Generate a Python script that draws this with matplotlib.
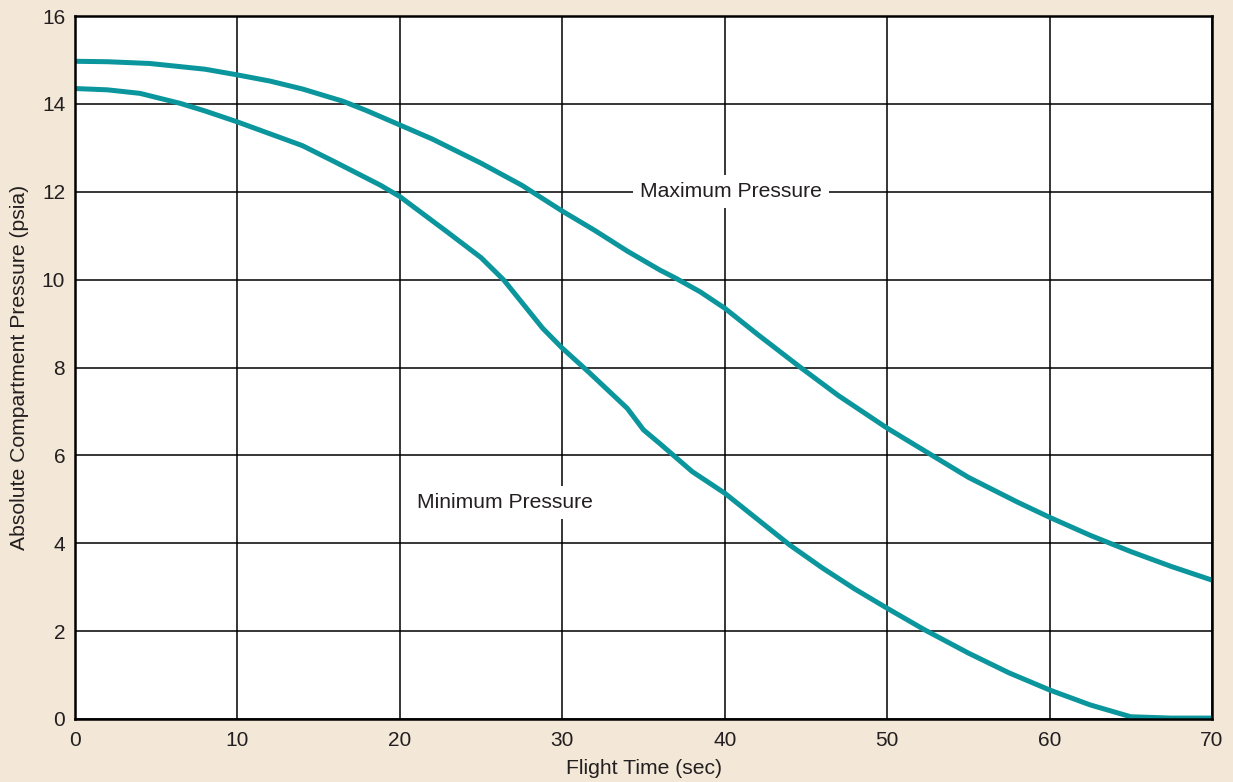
import numpy as np
import matplotlib
matplotlib.use('Agg')
import matplotlib.pyplot as plt

plt.rcParams['font.family'] = ['Liberation Sans', 'DejaVu Sans']

# 读图得到的数据点 (时间 sec, 压力 psia)
max_time = [0, 2, 4.6, 8, 10, 12, 14, 16.5, 18, 20, 22, 25, 27.5, 30, 32, 34, 36, 37,
            38.5, 40, 42, 44.6, 47, 50, 52.9, 55, 58, 60, 62.5, 65, 67.5, 70]
max_press = [14.97, 14.96, 14.92, 14.79, 14.66, 14.52, 14.34, 14.06, 13.84, 13.52, 13.20,
             12.65, 12.15, 11.56, 11.12, 10.65, 10.22, 10.03, 9.72, 9.35, 8.76, 8.02,
             7.36, 6.62, 5.97, 5.50, 4.94, 4.59, 4.18, 3.81, 3.47, 3.16]

min_time = [0, 2, 4, 6.5, 8, 10, 12, 14, 16, 18.8, 20, 22.9, 25, 26.4, 28.8, 30, 31.7,
            34, 35, 36, 38, 40, 42, 44, 46, 48, 50, 52.3, 55, 57.5, 60, 62.5, 65, 67.5, 70]
min_press = [14.35, 14.32, 14.24, 14.01, 13.84, 13.59, 13.32, 13.05, 12.68, 12.15, 11.89,
             11.09, 10.50, 9.99, 8.89, 8.44, 7.87, 7.07, 6.58, 6.27, 5.63, 5.14, 4.55,
             3.96, 3.44, 2.96, 2.52, 2.03, 1.50, 1.05, 0.66, 0.32, 0.05, 0.02, 0.02]

x_ticks = [0, 10, 20, 30, 40, 50, 60, 70]
y_ticks = [0, 2, 4, 6, 8, 10, 12, 14, 16]

bg = '#F3E8D7'
teal = '#0A969C'
txt = '#231F20'

fig = plt.figure(figsize=(12.33, 7.82), dpi=100, facecolor=bg)
ax = fig.add_axes([0.0608, 0.0806, 0.9222, 0.8989])
ax.set_facecolor('white')

ax.plot(max_time, max_press, color=teal, lw=3.6, solid_capstyle='butt', zorder=3)
ax.plot(min_time, min_press, color=teal, lw=3.6, solid_capstyle='butt', zorder=3)

ax.set_xlim(0, 70)
ax.set_ylim(0, 16)
ax.set_xticks(x_ticks)
ax.set_yticks(y_ticks)
ax.grid(True, color='black', lw=1.1, zorder=1)
ax.set_axisbelow(True)
ax.tick_params(axis='both', length=0, labelsize=15, labelcolor=txt)
ax.tick_params(axis='x', pad=9)
ax.tick_params(axis='y', pad=7)
for s in ax.spines.values():
    s.set_linewidth(1.8)
    s.set_color('black')
    s.set_zorder(4)

ax.set_xlabel('Flight Time (sec)', fontsize=15.2, color=txt, labelpad=6)
ax.set_ylabel('Absolute Compartment Pressure (psia)', fontsize=15.2, color=txt, labelpad=9.5)

box = dict(facecolor='white', edgecolor='none', pad=5)
ax.text(40.4, 12.0, 'Maximum Pressure', fontsize=15.2, color=txt, ha='center', va='center',
        bbox=box, zorder=2)
ax.text(26.5, 4.92, 'Minimum Pressure', fontsize=15.2, color=txt, ha='center', va='center',
        bbox=box, zorder=2)

fig.savefig('out.png', dpi=100, facecolor=bg)
